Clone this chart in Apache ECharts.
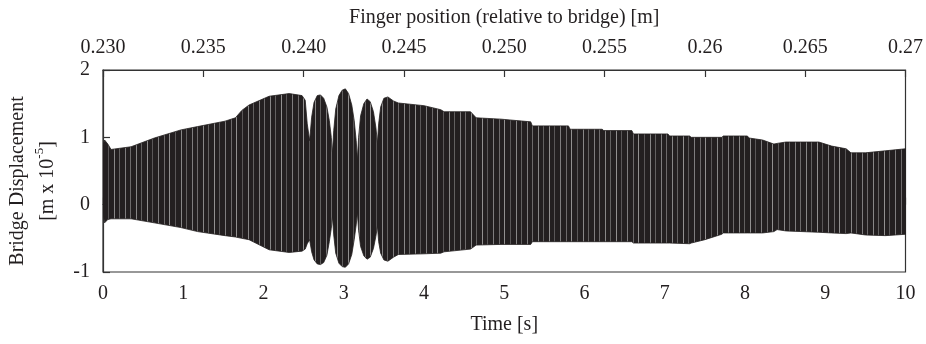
<!DOCTYPE html>
<html>
<head>
<meta charset="utf-8">
<script src="https://cdn.jsdelivr.net/npm/echarts@6/dist/echarts.min.js"></script>
<style>html,body{margin:0;padding:0;background:#fff}#c{width:926px;height:344px}</style>
</head>
<body>
<div id="c"></div>
<script>
// Envelope of the bridge displacement signal (upper / lower extents)
var timeS = [0.00,0.02,0.06,0.10,0.35,0.64,0.97,1.18,1.52,1.65,1.73,1.82,2.07,2.32,2.48,2.52,2.545,2.575,
  2.60,2.63,2.67,2.71,2.75,2.79,2.82,2.845,2.86,
  2.875,2.90,2.94,2.98,3.02,3.06,3.10,3.13,3.155,3.17,
  3.185,3.21,3.25,3.29,3.33,3.37,3.40,3.42,
  3.435,3.46,3.50,3.55,3.62,3.68,4.00,4.21,4.25,4.58,4.65,4.96,5.33,5.35,5.80,5.82,6.22,6.24,6.59,6.61,7.04,7.06,7.31,7.33,7.50,7.71,7.73,8.03,8.05,8.22,8.36,8.40,8.51,8.92,9.08,9.26,9.32,9.50,9.75,10.00];
var upperEnv = [0.88,0.96,0.90,0.82,0.86,0.99,1.11,1.16,1.24,1.29,1.40,1.48,1.61,1.65,1.62,1.55,1.20,0.95,
  1.30,1.52,1.62,1.63,1.58,1.45,1.25,1.00,0.77,
  1.10,1.42,1.62,1.70,1.72,1.65,1.48,1.25,0.95,0.67,
  1.00,1.32,1.50,1.57,1.53,1.38,1.15,0.92,
  1.20,1.45,1.58,1.60,1.54,1.51,1.47,1.41,1.38,1.38,1.29,1.27,1.23,1.17,1.17,1.12,1.12,1.10,1.10,1.05,1.05,1.02,1.02,1.00,1.00,1.00,1.02,1.02,0.99,0.96,0.90,0.91,0.93,0.93,0.87,0.83,0.77,0.77,0.80,0.83];
var lowerEnv = [-0.12,-0.27,-0.22,-0.21,-0.21,-0.27,-0.34,-0.40,-0.46,-0.48,-0.50,-0.52,-0.67,-0.71,-0.69,-0.66,-0.58,-0.52,
  -0.70,-0.82,-0.88,-0.89,-0.86,-0.75,-0.55,-0.35,-0.18,
  -0.45,-0.72,-0.87,-0.92,-0.93,-0.88,-0.74,-0.52,-0.30,-0.12,
  -0.38,-0.62,-0.76,-0.81,-0.78,-0.65,-0.47,-0.32,
  -0.55,-0.72,-0.82,-0.84,-0.78,-0.74,-0.73,-0.72,-0.70,-0.66,-0.60,-0.59,-0.59,-0.55,-0.55,-0.55,-0.55,-0.55,-0.55,-0.57,-0.57,-0.57,-0.58,-0.57,-0.52,-0.44,-0.42,-0.42,-0.42,-0.42,-0.40,-0.37,-0.39,-0.41,-0.42,-0.43,-0.42,-0.45,-0.46,-0.44];
// Top axis: finger position tick labels
var fingerTicks = ['0.230','0.235','0.240','0.245','0.250','0.255','0.26','0.265','0.27'];

var FONT = "'Liberation Serif','Times New Roman',serif";
var INK = '#231f20';
var rows = timeS.map(function(t,i){ return [t, upperEnv[i], lowerEnv[i]]; });

// fill texture: dark ink with thin light streaks (the individual oscillation strokes)
var pat = document.createElement('canvas');
pat.width = 67; pat.height = 4;
var g = pat.getContext('2d');
g.fillStyle = INK; g.fillRect(0,0,67,4);
var streaks = [[2,0.55],[7,0.35],[13,0.6],[18,0.3],[24,0.5],[30,0.4],[35,0.6],[41,0.3],[47,0.55],[52,0.35],[58,0.5],[63,0.4]];
streaks.forEach(function(s){ g.fillStyle = 'rgba(220,220,220,'+s[1]+')'; g.fillRect(s[0],0,1,4); });

var chart = echarts.init(document.getElementById('c'), null, {renderer:'canvas'});
chart.setOption({
  animation:false,
  backgroundColor:'#fff',
  grid:{left:100,right:19,top:70,bottom:72,show:true,borderColor:'#333',borderWidth:1.2,backgroundColor:'transparent'},
  xAxis:[{
    type:'value',position:'bottom',min:0,max:10,interval:1,
    axisLine:{show:true,lineStyle:{color:'#333',width:1.2}},
    axisTick:{show:true,inside:true,length:7,lineStyle:{color:'#333',width:1.2}},
    splitLine:{show:false},
    axisLabel:{fontFamily:FONT,fontSize:20,color:INK,margin:12},
    name:'Time [s]',nameLocation:'middle',nameGap:43,
    nameTextStyle:{fontFamily:FONT,fontSize:20,color:INK}
  },{
    type:'value',position:'top',min:0.23,max:0.27,interval:0.005,
    axisLine:{show:true,lineStyle:{color:'#333',width:1.2}},
    axisTick:{show:true,inside:true,length:7,lineStyle:{color:'#333',width:1.2}},
    splitLine:{show:false},
    axisLabel:{fontFamily:FONT,fontSize:20,color:INK,margin:12,showMinLabel:true,showMaxLabel:true,
      formatter:function(v){ var k=Math.round((v-0.23)/0.005); return fingerTicks[k]!==undefined?fingerTicks[k]:''; }},
    name:'Finger position (relative to bridge) [m]',nameLocation:'middle',nameGap:42,
    nameTextStyle:{fontFamily:FONT,fontSize:20,color:INK}
  }],
  yAxis:[{
    type:'value',min:-1,max:2,interval:1,
    axisLine:{show:true,lineStyle:{color:'#333',width:1.2}},
    axisTick:{show:true,inside:true,length:7,lineStyle:{color:'#333',width:1.2}},
    splitLine:{show:false},
    axisLabel:{fontFamily:FONT,fontSize:20,color:INK,margin:13},
    name:'{a|Bridge Displacement}\n{a|[m x 10}{s|-5}{a|]}',
    nameLocation:'middle',nameGap:40,
    nameTextStyle:{fontFamily:FONT,fontSize:20,color:INK,padding:[0,20,0,0],
      rich:{a:{fontFamily:FONT,fontSize:20,color:INK,lineHeight:30},
            s:{fontFamily:FONT,fontSize:13,color:INK,lineHeight:30,verticalAlign:'top',padding:[0,0,8,0]}}}
  }],
  series:[{
    type:'custom',xAxisIndex:0,yAxisIndex:0,
    data:rows,
    renderItem:function(params, api){
      if(params.dataIndex!==0) return null;
      var pts=[];
      for(var i=0;i<rows.length;i++) pts.push(api.coord([rows[i][0], rows[i][1]]));
      for(var j=rows.length-1;j>=0;j--) pts.push(api.coord([rows[j][0], rows[j][2]]));
      return {type:'polygon',shape:{points:pts},style:{fill:{image:pat,repeat:'repeat'},stroke:INK,lineWidth:0.8}};
    },
    clip:true
  }]
});
</script>
</body>
</html>
